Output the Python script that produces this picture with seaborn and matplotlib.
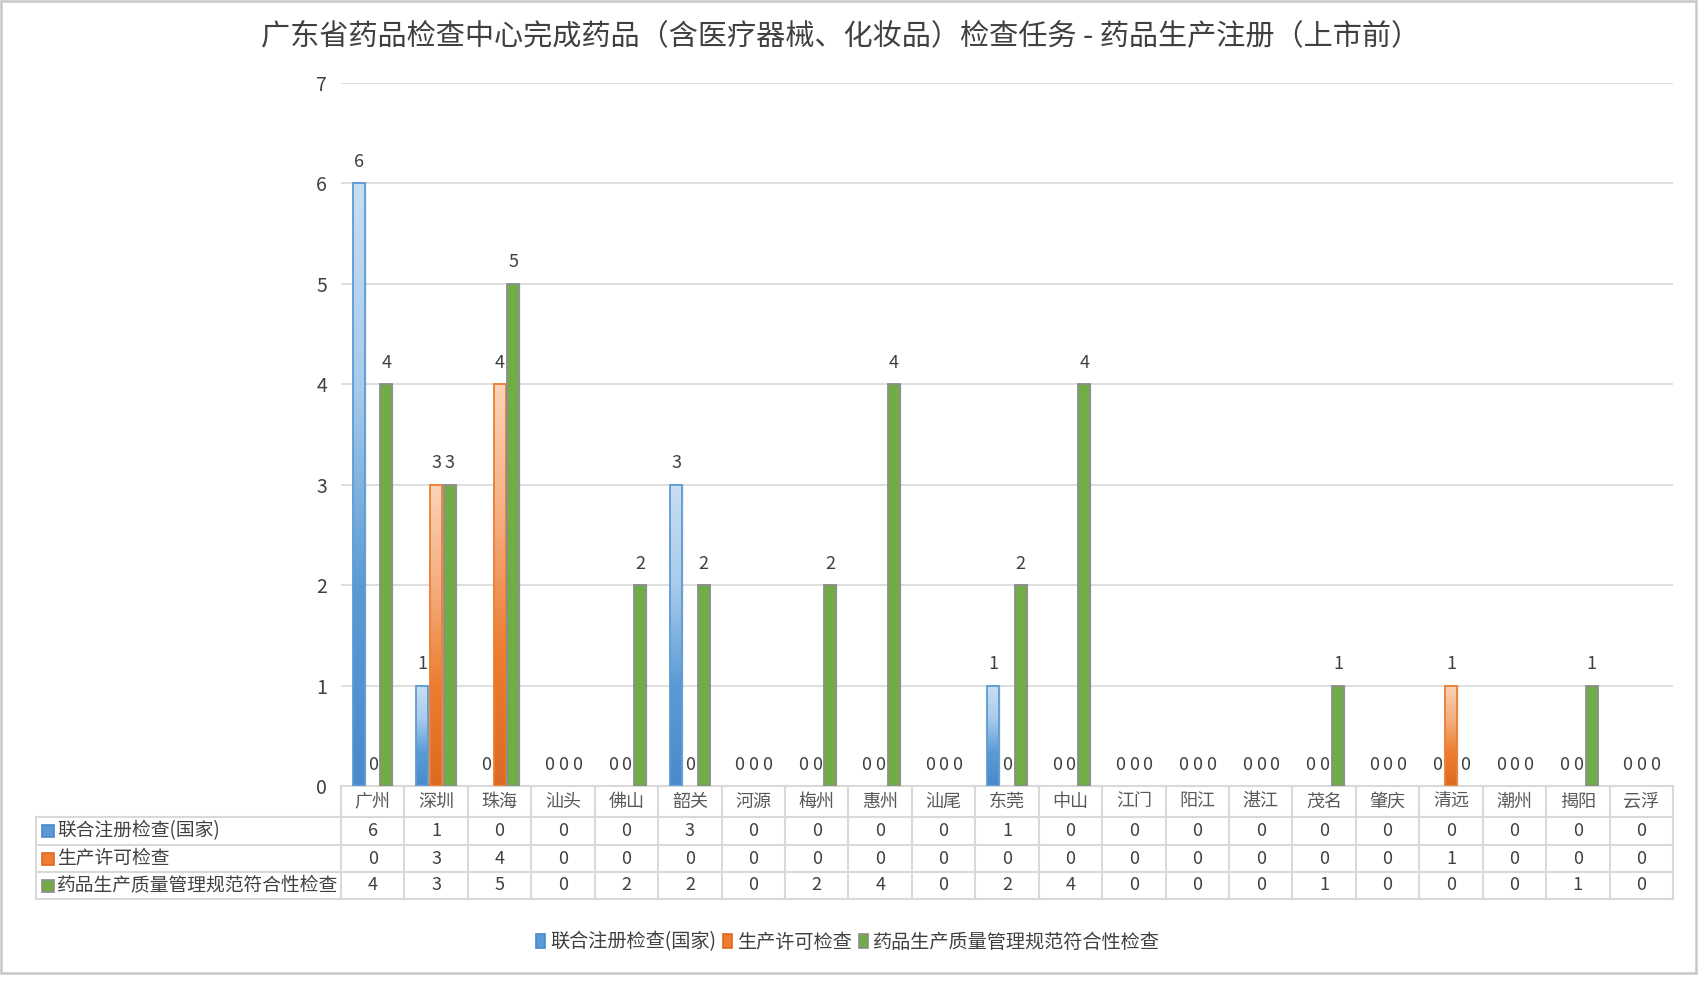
import numpy as np
import pandas as pd
import matplotlib
matplotlib.use('Agg')
import matplotlib.pyplot as plt
import seaborn as sns
from matplotlib.patches import Rectangle
from matplotlib.lines import Line2D
from matplotlib.transforms import blended_transform_factory
from matplotlib.colors import LinearSegmentedColormap

# ---------------- data ----------------
cities = ['广州', '深圳', '珠海', '汕头', '佛山', '韶关', '河源', '梅州', '惠州', '汕尾', '东莞',
          '中山', '江门', '阳江', '湛江', '茂名', '肇庆', '清远', '潮州', '揭阳', '云浮']
joint_reg = [6, 1, 0, 0, 0, 3, 0, 0, 0, 0, 1, 0, 0, 0, 0, 0, 0, 0, 0, 0, 0]
prod_license = [0, 3, 4, 0, 0, 0, 0, 0, 0, 0, 0, 0, 0, 0, 0, 0, 0, 1, 0, 0, 0]
gmp_check = [4, 3, 5, 0, 2, 2, 0, 2, 4, 0, 2, 4, 0, 0, 0, 1, 0, 0, 0, 1, 0]
series_names = ['联合注册检查(国家)', '生产许可检查', '药品生产质量管理规范符合性检查']
title = '广东省药品检查中心完成药品（含医疗器械、化妆品）检查任务 - 药品生产注册（上市前）'
yticks = [0, 1, 2, 3, 4, 5, 6, 7]

series_values = [joint_reg, prod_license, gmp_check]
df = pd.DataFrame({
    'city': cities * 3,
    'series': [s for s in series_names for _ in cities],
    'value': joint_reg + prod_license + gmp_check,
})

# ---------------- style ----------------
sns.set_theme(style='white')
plt.rcParams['font.family'] = ['Noto Sans CJK SC', 'DejaVu Sans']

W, H = 1698, 989
fig = plt.figure(figsize=(W / 100, H / 100), dpi=100)
fig.patch.set_facecolor('white')

def fx(px):
    return px / W

def fy(py):
    return 1 - py / H

ax = fig.add_axes([fx(341), fy(786), fx(1673) - fx(341), fy(83) - fy(786)])

mid_cols = ['#5B9BD5', '#ED7D31', '#70AD47']
edge_cols = ['#5B9BD5', '#ED7D31', '#8C8C8C']
grad_cols = [('#4A8ACB', '#5B9BD5', '#A9CBEB', '#C9DEF2'),
             ('#DD6A22', '#ED7D31', '#F4AE80', '#FAD3B8'), None]

sns.barplot(data=df, x='city', y='value', hue='series', order=cities,
            hue_order=series_names, palette=mid_cols, width=0.65, gap=0.13,
            saturation=1, errorbar=None, legend=False, ax=ax, zorder=2)

for si, cont in enumerate(ax.containers):
    for p, v in zip(cont.patches, series_values[si]):
        x0, w, h = p.get_x(), p.get_width(), p.get_height()
        if v == 0:
            p.set_linewidth(0)
            p.set_facecolor('none')
            continue
        # soft shadow
        ax.add_patch(Rectangle((x0 + 0.03, 0), w, h, facecolor='#000000', alpha=0.06,
                               edgecolor='none', zorder=1.5))
        ax.add_patch(Rectangle((x0 + 0.015, 0), w, h, facecolor='#000000', alpha=0.05,
                               edgecolor='none', zorder=1.6))
        if grad_cols[si] is not None:
            p.set_facecolor('none')
            cmap = LinearSegmentedColormap.from_list('g%d' % si, list(grad_cols[si]))
            grad = np.linspace(0, 1, 100).reshape(-1, 1)
            ax.imshow(grad, extent=(x0, x0 + w, 0, h), origin='lower', aspect='auto',
                      cmap=cmap, zorder=2, interpolation='bicubic')
        else:
            p.set_facecolor(mid_cols[si])
        p.set_edgecolor(edge_cols[si])
        p.set_linewidth(1.3)
        p.set_zorder(3)

for si, cont in enumerate(ax.containers):
    ax.bar_label(cont, labels=[str(v) for v in series_values[si]], padding=9,
                 fontsize=13, color='#404040', zorder=4)

ax.set_xlim(-0.5, len(cities) - 0.5)
ax.set_ylim(0, 7)
ax.set_yticks(yticks)
ax.set_yticklabels([str(t) for t in yticks], fontsize=14, color='#404040')
ax.tick_params(axis='y', length=0, pad=10)
ax.tick_params(axis='x', length=0, labelbottom=False)
ax.set_xlabel('')
ax.set_ylabel('')
ax.yaxis.grid(True, color='#D9D9D9', lw=1.2, zorder=0)
ax.set_axisbelow(True)
for s in ['left', 'top', 'right']:
    ax.spines[s].set_visible(False)
ax.spines['bottom'].set_color('#D9D9D9')
ax.spines['bottom'].set_linewidth(1.5)

# ---------------- data table ----------------
tr = blended_transform_factory(ax.transData, fig.transFigure)
grid_c = '#D9D9D9'
row_edges = [786, 817, 845, 872, 899]
for py in row_edges[1:]:
    fig.add_artist(Line2D([fx(36), fx(1673)], [fy(py), fy(py)], color=grid_c, lw=1.5))
fig.add_artist(Line2D([fx(36), fx(36)], [fy(817), fy(899)], color=grid_c, lw=1.5))
for i in range(len(cities) + 1):
    xb = i - 0.5
    fig.add_artist(Line2D([xb, xb], [fy(786), fy(899)], transform=tr, color=grid_c, lw=1.5))

hdr_c = (row_edges[0] + row_edges[1]) / 2
for i, c in enumerate(cities):
    ax.text(i, fy(hdr_c), c, transform=tr, ha='center', va='center',
            fontsize=13, color='#595959')

for r in range(3):
    cy = (row_edges[r + 1] + row_edges[r + 2]) / 2
    for i, v in enumerate(series_values[r]):
        ax.text(i, fy(cy), str(v), transform=tr, ha='center', va='center',
                fontsize=13, color='#404040')
    fig.add_artist(Rectangle((fx(42), fy(cy + 6)), 12 / W, 12 / H, transform=fig.transFigure,
                             facecolor=mid_cols[r], edgecolor=edge_cols[r] if r == 2 else grad_cols[r][0],
                             lw=1.2))
    fig.text(fx(57), fy(cy), series_names[r], ha='left', va='center',
             fontsize=13.5, color='#404040')

# ---------------- legend ----------------
handles = [Rectangle((0, 0), 1, 1, facecolor=mid_cols[i],
                     edgecolor=edge_cols[i] if i == 2 else grad_cols[i][0], lw=1.2)
           for i in range(3)]
fig.legend(handles, series_names, loc='center', bbox_to_anchor=(fx(848), fy(942)),
           ncol=3, frameon=False, fontsize=13.8, handlelength=0.45, handleheight=0.8,
           handletextpad=0.25, columnspacing=0.4, labelcolor='#404040')

# ---------------- title & border ----------------
fig.text(fx(841), fy(36), title, ha='center', va='center', fontsize=21, color='#404040')
fig.add_artist(Rectangle((fx(1), fy(973)), fx(1696) - fx(1), fy(1) - fy(973),
                         transform=fig.transFigure, fill=False, edgecolor='#C8C8C8', lw=1.8))

fig.savefig('out.png', dpi=100, facecolor='white')
